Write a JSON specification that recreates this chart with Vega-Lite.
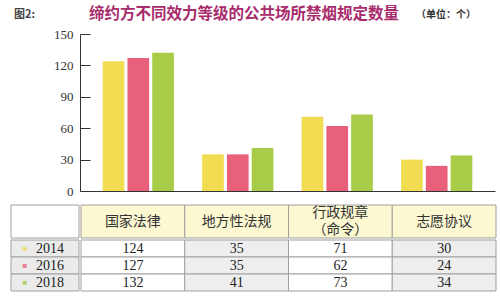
{
  "$schema": "https://vega.github.io/schema/vega-lite/v6.json",
  "background": "white",
  "padding": {"left": 10, "top": 6, "right": 5, "bottom": 5},
  "title": {"text": "缔约方不同效力等级的公共场所禁烟规定数量", "anchor": "start", "frame": "group", "dx": 78, "offset": -13, "fontSize": 15.5, "fontWeight": "bold", "color": "#a82b6c", "font": "Noto Sans CJK SC"},
  "datasets": {
    "counts": [
      {"type": "国家法律", "year": "2014", "value": 124},
      {"type": "国家法律", "year": "2016", "value": 127},
      {"type": "国家法律", "year": "2018", "value": 132},
      {"type": "地方性法规", "year": "2014", "value": 35},
      {"type": "地方性法规", "year": "2016", "value": 35},
      {"type": "地方性法规", "year": "2018", "value": 41},
      {"type": "行政规章\n（命令）", "year": "2014", "value": 71},
      {"type": "行政规章\n（命令）", "year": "2016", "value": 62},
      {"type": "行政规章\n（命令）", "year": "2018", "value": 73},
      {"type": "志愿协议", "year": "2014", "value": 30},
      {"type": "志愿协议", "year": "2016", "value": 24},
      {"type": "志愿协议", "year": "2018", "value": 34}
    ]
  },
  "spacing": 0,
  "vconcat": [
    {
      "spacing": 0,
      "hconcat": [
        {
          "width": 29,
          "height": 157,
          "title": {"text": "图2:", "anchor": "start", "dx": 3, "fontSize": 11, "fontWeight": "bold", "color": "#444", "font": "Noto Sans CJK SC", "offset": 14},
          "data": {"values": []},
          "mark": "text"
        },
        {
          "width": 415,
          "height": 157,
          "title": {"text": "（单位：个）", "anchor": "end", "dx": -19, "offset": 8, "fontSize": 10, "fontWeight": "bold", "color": "#333", "font": "Noto Sans CJK SC"},
          "data": {"name": "counts"},
          "mark": {"type": "bar"},
          "encoding": {
            "x": {
              "field": "type", "type": "nominal", "sort": null,
              "scale": {"paddingInner": 0, "paddingOuter": 0.086},
              "axis": {"labels": false, "ticks": false, "domain": true, "domainColor": "#333", "domainWidth": 1, "title": null, "minExtent": 13, "maxExtent": 13}
            },
            "xOffset": {"field": "year", "type": "nominal", "scale": {"paddingInner": 0.125, "paddingOuter": 0.57}},
            "y": {
              "field": "value", "type": "quantitative",
              "scale": {"domain": [0, 150], "nice": false},
              "axis": {
                "values": [0, 30, 60, 90, 120, 150], "grid": false, "title": null, "labelOverlap": false,
                "tickSize": -10, "tickColor": "#333", "domainColor": "#333",
                "labelPadding": 17, "labelFont": "Liberation Serif", "labelFontSize": 13, "labelColor": "#333",
                "minExtent": 40, "maxExtent": 40
              }
            },
            "color": {
              "field": "year", "type": "nominal",
              "scale": {"domain": ["2014", "2016", "2018"], "range": ["#f2dc52", "#e8607a", "#a8cc48"]},
              "legend": null
            }
          }
        }
      ]
    },
    {
      "spacing": 0,
      "hconcat": [
        {
          "width": 68,
          "height": 33,
          "data": {"name": "counts"},
          "transform": [{"filter": "datum.year === '2014' && datum.type === '国家法律'"}],
          "mark": {"type": "rect", "fill": "#ffffff", "stroke": "#a0a0a0", "strokeWidth": 1},
          "encoding": {
            "x": {"field": "type", "type": "nominal", "axis": null, "scale": {"paddingInner": 0, "paddingOuter": 0}},
            "y": {"field": "year", "type": "ordinal", "axis": null, "scale": {"paddingInner": 0, "paddingOuter": 0}}
          }
        },
        {
          "width": 415,
          "height": 33,
          "data": {"name": "counts"},
          "transform": [{"filter": "datum.year === '2014'"}],
          "encoding": {
            "x": {"field": "type", "type": "nominal", "sort": null, "axis": null, "scale": {"paddingInner": 0, "paddingOuter": 0}},
            "y": {"field": "year", "type": "ordinal", "axis": null, "scale": {"paddingInner": 0, "paddingOuter": 0}}
          },
          "layer": [
            {"mark": {"type": "rect", "fill": "#fcf8d2", "stroke": "#a0a0a0", "strokeWidth": 1}},
            {
              "transform": [{"filter": "indexof(datum.type, '（') < 0"}],
              "mark": {"type": "text", "font": "Noto Sans CJK SC", "fontSize": 14, "color": "#333", "baseline": "middle"},
              "encoding": {"text": {"field": "type"}}
            },
            {
              "transform": [{"filter": "indexof(datum.type, '（') >= 0"}],
              "mark": {"type": "text", "font": "Noto Sans CJK SC", "fontSize": 14, "color": "#333", "lineBreak": "\n", "lineHeight": 17, "dy": -8.5, "baseline": "middle"},
              "encoding": {"text": {"field": "type"}}
            }
          ]
        }
      ]
    },
    {
      "spacing": 0,
      "hconcat": [
        {
          "width": 68,
          "height": 51,
          "data": {"name": "counts"},
          "transform": [{"filter": "datum.type === '国家法律'"}],
          "encoding": {
            "x": {"field": "type", "type": "nominal", "axis": null, "scale": {"paddingInner": 0, "paddingOuter": 0}},
            "y": {"field": "year", "type": "ordinal", "axis": null, "scale": {"paddingInner": 0, "paddingOuter": 0}}
          },
          "layer": [
            {"mark": {"type": "rect", "fill": "#ebebeb", "stroke": "#a0a0a0", "strokeWidth": 1}},
            {
              "mark": {"type": "text", "text": "■", "dx": -20, "fontSize": 8, "opacity": 0.8, "baseline": "middle"},
              "encoding": {
                "color": {"field": "year", "type": "nominal", "scale": {"domain": ["2014", "2016", "2018"], "range": ["#f2dc52", "#e8607a", "#a8cc48"]}, "legend": null}
              }
            },
            {
              "mark": {"type": "text", "dx": 5, "font": "Liberation Serif", "fontSize": 14, "color": "#222", "baseline": "middle"},
              "encoding": {"text": {"field": "year"}}
            }
          ]
        },
        {
          "width": 415,
          "height": 51,
          "data": {"name": "counts"},
          "encoding": {
            "x": {"field": "type", "type": "nominal", "sort": null, "axis": null, "scale": {"paddingInner": 0, "paddingOuter": 0}},
            "y": {"field": "year", "type": "ordinal", "axis": null, "scale": {"paddingInner": 0, "paddingOuter": 0}}
          },
          "layer": [
            {
              "mark": {"type": "rect", "stroke": "#a0a0a0", "strokeWidth": 1},
              "encoding": {
                "fill": {
                  "field": "type", "type": "nominal",
                  "scale": {"domain": ["国家法律", "地方性法规", "行政规章\n（命令）", "志愿协议"], "range": ["#ffffff", "#eeeeee", "#ffffff", "#eeeeee"]},
                  "legend": null
                }
              }
            },
            {
              "mark": {"type": "text", "font": "Liberation Serif", "fontSize": 14, "color": "#222", "baseline": "middle"},
              "encoding": {"text": {"field": "value", "type": "quantitative"}}
            }
          ]
        }
      ]
    }
  ],
  "config": {
    "view": {"stroke": null}
  }
}
